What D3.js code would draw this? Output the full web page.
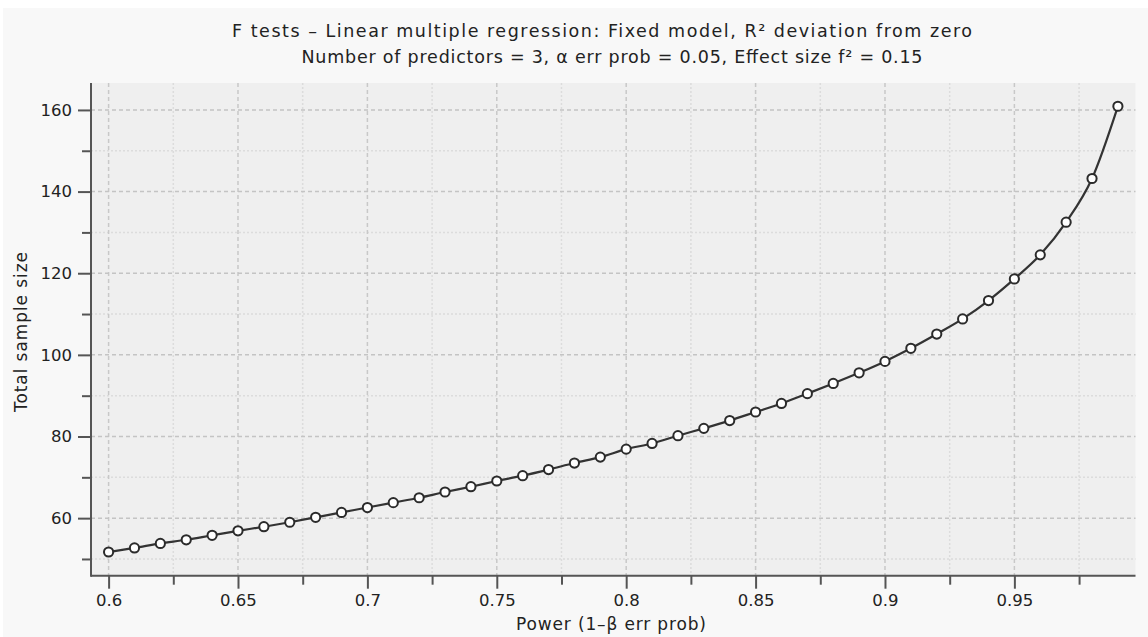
<!DOCTYPE html>
<html>
<head>
<meta charset="utf-8">
<script src="https://cdn.jsdelivr.net/npm/d3@7"></script>
<style>
  body { margin: 0; background: #ffffff; }
  text { font-family: "DejaVu Sans", sans-serif; fill: #222; }
</style>
</head>
<body>
<div id="chart-area"></div>
<script>
var width = 1148;
var height = 637;

// power values (x) and total sample size (y)
var power = [0.60, 0.61, 0.62, 0.63, 0.64, 0.65, 0.66, 0.67, 0.68, 0.69,
             0.70, 0.71, 0.72, 0.73, 0.74, 0.75, 0.76, 0.77, 0.78, 0.79,
             0.80, 0.81, 0.82, 0.83, 0.84, 0.85, 0.86, 0.87, 0.88, 0.89,
             0.90, 0.91, 0.92, 0.93, 0.94, 0.95, 0.96, 0.97, 0.98, 0.99];
var sampleSize = [51.7, 52.7, 53.8, 54.7, 55.8, 56.9, 57.9, 59.0, 60.2, 61.4,
                  62.6, 63.8, 65.0, 66.4, 67.7, 69.1, 70.4, 71.9, 73.5, 74.95,
                  76.9, 78.3, 80.2, 82.0, 83.9, 86.0, 88.1, 90.5, 93.0, 95.6,
                  98.4, 101.6, 105.1, 108.8, 113.3, 118.6, 124.5, 132.5, 143.2, 160.9];

var xMajor = [0.6, 0.65, 0.7, 0.75, 0.8, 0.85, 0.9, 0.95];
var xMinor = [0.625, 0.675, 0.725, 0.775, 0.825, 0.875, 0.925, 0.975];
var yMajor = [60, 80, 100, 120, 140, 160];
var yMinor = [50, 70, 90, 110, 130, 150];

var title1 = "F tests \u2013 Linear multiple regression: Fixed model, R\u00b2 deviation from zero";
var title2 = "Number of predictors = 3, \u03b1 err prob = 0.05, Effect size f\u00b2 = 0.15";
var xTitle = "Power (1\u2013\u03b2 err prob)";
var yTitle = "Total sample size";

var svg = d3.select("#chart-area").append("svg")
    .attr("width", width)
    .attr("height", height);

var plotLeft = 91, plotRight = 1135.5, plotTop = 83, plotBottom = 575.7;

var scaleX = d3.scaleLinear()
    .domain([0.5932, 0.9968])
    .range([plotLeft, plotRight]);

var scaleY = d3.scaleLinear()
    .domain([45.9, 166.6])
    .range([plotBottom, plotTop]);

// outer background
svg.append("rect")
    .attr("x", 3).attr("y", 8)
    .attr("width", width - 3).attr("height", height - 8)
    .attr("fill", "#f8f8f8");

// plot background
svg.append("rect")
    .attr("x", plotLeft).attr("y", plotTop)
    .attr("width", plotRight - plotLeft).attr("height", plotBottom - plotTop)
    .attr("fill", "#efefef");

// grid lines
var grid = svg.append("g");
grid.selectAll(".vminor").data(xMinor).enter().append("line")
    .attr("x1", d => scaleX(d)).attr("x2", d => scaleX(d))
    .attr("y1", plotTop).attr("y2", plotBottom)
    .attr("stroke", "#dcdcdc").attr("stroke-width", 1.5)
    .attr("stroke-dasharray", "2,2");
grid.selectAll(".hminor").data(yMinor).enter().append("line")
    .attr("x1", plotLeft).attr("x2", plotRight)
    .attr("y1", d => scaleY(d)).attr("y2", d => scaleY(d))
    .attr("stroke", "#dcdcdc").attr("stroke-width", 1.5)
    .attr("stroke-dasharray", "2,2");
grid.selectAll(".vmajor").data(xMajor).enter().append("line")
    .attr("x1", d => scaleX(d)).attr("x2", d => scaleX(d))
    .attr("y1", plotTop).attr("y2", plotBottom)
    .attr("stroke", "#c8c8c8").attr("stroke-width", 1.5)
    .attr("stroke-dasharray", "4,3");
grid.selectAll(".hmajor").data(yMajor).enter().append("line")
    .attr("x1", plotLeft).attr("x2", plotRight)
    .attr("y1", d => scaleY(d)).attr("y2", d => scaleY(d))
    .attr("stroke", "#c4c4c4").attr("stroke-width", 1.5)
    .attr("stroke-dasharray", "4,3");

// axes
function styleAxis(g) {
    g.select(".domain").remove();
    g.selectAll(".tick line").attr("stroke", "#555").attr("stroke-width", 2);
    g.selectAll(".tick text").attr("fill", "#222")
        .style("font-family", "DejaVu Sans").style("font-size", "16.5px");
}

svg.append("g")
    .attr("transform", "translate(0," + plotBottom + ")")
    .call(d3.axisBottom(scaleX).tickValues(xMinor).tickSize(9).tickFormat(""))
    .call(styleAxis);
svg.append("g")
    .attr("transform", "translate(0," + plotBottom + ")")
    .call(d3.axisBottom(scaleX).tickValues(xMajor).tickSize(13).tickPadding(6)
        .tickFormat(d => String(+d.toFixed(2))))
    .call(styleAxis);

svg.append("g")
    .attr("transform", "translate(" + plotLeft + ",0)")
    .call(d3.axisLeft(scaleY).tickValues(yMinor).tickSize(9).tickFormat(""))
    .call(styleAxis);
svg.append("g")
    .attr("transform", "translate(" + plotLeft + ",0)")
    .call(d3.axisLeft(scaleY).tickValues(yMajor).tickSize(13).tickPadding(6))
    .call(styleAxis);

// axis lines
svg.append("line")
    .attr("x1", plotLeft).attr("x2", plotLeft).attr("y1", plotTop).attr("y2", plotBottom + 1)
    .attr("stroke", "#555").attr("stroke-width", 2);
svg.append("line")
    .attr("x1", plotLeft).attr("x2", plotRight).attr("y1", plotBottom).attr("y2", plotBottom)
    .attr("stroke", "#555").attr("stroke-width", 2);

// curve
var points = power.map((p, i) => [p, sampleSize[i]]);
var line = d3.line()
    .x(d => scaleX(d[0]))
    .y(d => scaleY(d[1]))
    .curve(d3.curveMonotoneX);

svg.append("path")
    .attr("d", line(points))
    .attr("fill", "none")
    .attr("stroke", "#333")
    .attr("stroke-width", 2.2);

svg.selectAll("circle")
    .data(points)
    .enter()
    .append("circle")
    .attr("cx", d => scaleX(d[0]))
    .attr("cy", d => scaleY(d[1]))
    .attr("r", 4.6)
    .attr("fill", "white")
    .attr("stroke", "#2b2b2b")
    .attr("stroke-width", 2);

// titles
svg.append("text")
    .text(title1)
    .attr("x", 602).attr("y", 37)
    .attr("text-anchor", "middle")
    .attr("textLength", 740).attr("lengthAdjust", "spacing")
    .style("font-size", "17.5px");
svg.append("text")
    .text(title2)
    .attr("x", 612).attr("y", 63)
    .attr("text-anchor", "middle")
    .attr("textLength", 621).attr("lengthAdjust", "spacing")
    .style("font-size", "17.5px");

svg.append("text")
    .text(xTitle)
    .attr("x", 611).attr("y", 630)
    .attr("text-anchor", "middle")
    .attr("textLength", 190).attr("lengthAdjust", "spacing")
    .style("font-size", "17px");

svg.append("text")
    .text(yTitle)
    .attr("transform", "translate(27,332) rotate(-90)")
    .attr("text-anchor", "middle")
    .attr("textLength", 160).attr("lengthAdjust", "spacing")
    .style("font-size", "17px");
</script>
</body>
</html>
